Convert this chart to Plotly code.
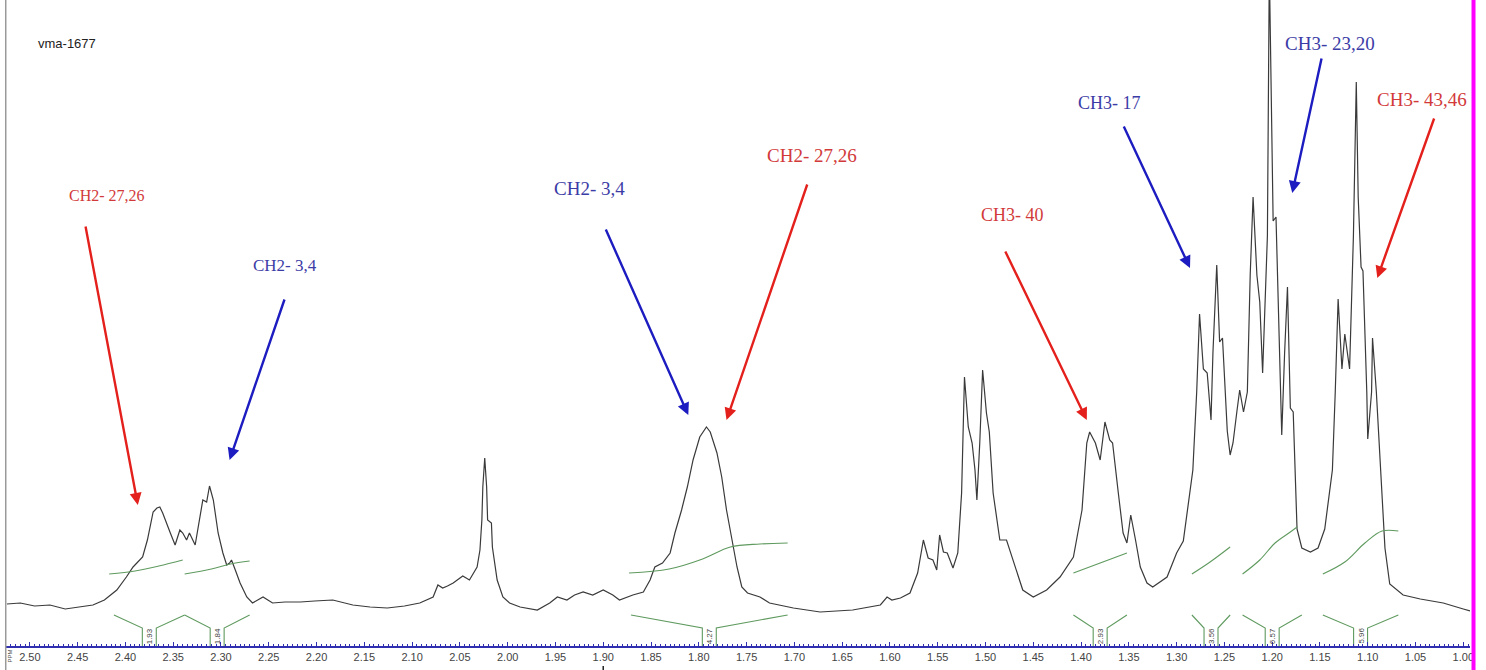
import plotly.graph_objects as go

# 1H NMR trace, chemical shift (ppm) and intensity (a.u.)
ppm = [2.524, 2.510, 2.495, 2.479, 2.463, 2.448, 2.434, 2.422, 2.409, 2.399,
       2.392, 2.382, 2.377, 2.371, 2.367, 2.364, 2.361, 2.353, 2.348, 2.343,
       2.340, 2.336, 2.333, 2.327, 2.322, 2.319, 2.315, 2.312, 2.308, 2.303,
       2.298, 2.294, 2.291, 2.289, 2.285, 2.280, 2.273, 2.267, 2.256, 2.246,
       2.233, 2.217, 2.202, 2.183, 2.162, 2.144, 2.126, 2.108, 2.092, 2.078,
       2.073, 2.068, 2.063, 2.057, 2.047, 2.040, 2.032, 2.029, 2.027, 2.026,
       2.024, 2.022, 2.021, 2.019, 2.017, 2.016, 2.011, 2.005, 1.998, 1.987,
       1.969, 1.956, 1.948, 1.938, 1.930, 1.921, 1.911, 1.900, 1.890, 1.883,
       1.869, 1.858, 1.851, 1.846, 1.838, 1.830, 1.825, 1.818, 1.812, 1.806,
       1.799, 1.792, 1.788, 1.781, 1.776, 1.771, 1.765, 1.760, 1.755, 1.749,
       1.736, 1.726, 1.701, 1.673, 1.639, 1.610, 1.603, 1.598, 1.589, 1.579,
       1.571, 1.565, 1.560, 1.555, 1.551, 1.548, 1.544, 1.540, 1.534, 1.529,
       1.525, 1.522, 1.518, 1.514, 1.511, 1.509, 1.506, 1.503, 1.499, 1.496,
       1.492, 1.485, 1.478, 1.471, 1.461, 1.450, 1.436, 1.422, 1.408, 1.399,
       1.394, 1.391, 1.385, 1.380, 1.375, 1.370, 1.367, 1.361, 1.356, 1.352,
       1.348, 1.343, 1.338, 1.331, 1.325, 1.310, 1.300, 1.293, 1.283, 1.279,
       1.276, 1.272, 1.268, 1.264, 1.262, 1.258, 1.255, 1.252, 1.247, 1.244,
       1.241, 1.237, 1.234, 1.230, 1.226, 1.223, 1.220, 1.216, 1.213, 1.210,
       1.205, 1.203, 1.200, 1.199, 1.196, 1.192, 1.190, 1.187, 1.184, 1.181,
       1.178, 1.174, 1.169, 1.160, 1.152, 1.145, 1.137, 1.134, 1.131, 1.127,
       1.124, 1.119, 1.115, 1.112, 1.110, 1.107, 1.105, 1.101, 1.100, 1.096,
       1.095, 1.091, 1.087, 1.082, 1.077, 1.063, 1.045, 1.021, 1.000, 0.993]
intensity = [3, 4, 1, 2, -2, 0, 2, 7, 17, 30,
             40, 50, 67, 95, 99, 100, 94, 74, 62, 77,
             74, 67, 74, 62, 90, 107, 105, 121, 107, 74,
             54, 42, 44, 47, 37, 24, 10, 4, 10, 4,
             5, 5, 6, 7, 2, 0, -1, 1, 4, 10,
             22, 19, 21, 24, 31, 27, 40, 57, 87, 120,
             149, 120, 87, 85, 84, 60, 27, 10, 4, 0,
             -3, 4, 10, 7, 12, 15, 12, 17, 12, 7,
             12, 15, 27, 40, 44, 54, 74, 97, 120, 147,
             170, 180, 175, 154, 130, 97, 64, 40, 20, 14,
             10, 4, -1, -5, -3, 2, 10, 7, 9, 14,
             34, 67, 49, 47, 37, 72, 55, 54, 39, 54,
             114, 230, 180, 164, 137, 107, 164, 237, 194, 175,
             114, 67, 67, 47, 17, 10, 17, 30, 50, 97,
             164, 175, 164, 147, 185, 167, 164, 114, 74, 64,
             92, 67, 40, 24, 20, 30, 54, 66, 137, 215,
             293, 238, 234, 187, 254, 342, 265, 269, 176, 152,
             164, 195, 217, 195, 215, 332, 410, 332, 305, 234,
             371, 640, 410, 386, 390, 254, 172, 254, 320, 199,
             195, 78, 59, 55, 59, 78, 137, 215, 308, 238,
             273, 238, 371, 525, 410, 340, 336, 215, 168, 215,
             269, 215, 148, 59, 23, 12, 8, 4, -2, -4]

# Running integral curves over each integrated region
integral_ppm = [
    [2.417, 2.390, 2.365, 2.340],
    [2.338, 2.310, 2.290, 2.270],
    [1.873, 1.831, 1.796, 1.767, 1.736, 1.707],
    [1.408, 1.380, 1.352],
    [1.284, 1.265, 1.244],
    [1.231, 1.213, 1.197, 1.181, 1.174],
    [1.147, 1.124, 1.103, 1.085, 1.068],
]
integral_val = [
    [33, 36, 41, 47],
    [33, 38, 43, 46],
    [34, 38, 48, 60, 63, 64],
    [34, 44, 54],
    [33, 45, 60],
    [33, 47, 64, 75, 80],
    [33, 45, 64, 76, 76],
]

# Integration regions and their relative areas
region_start = [2.412, 2.338, 1.871, 1.408, 1.284, 1.231, 1.147]
region_end = [2.338, 2.270, 1.707, 1.352, 1.244, 1.169, 1.068]
region_area = ["1.93", "1.84", "4.27", "2.93", "3.56", "6.57", "5.96"]

tick_ppm = [2.50, 2.45, 2.40, 2.35, 2.30, 2.25, 2.20, 2.15, 2.10, 2.05, 2.00,
            1.95, 1.90, 1.85, 1.80, 1.75, 1.70, 1.65, 1.60, 1.55, 1.50,
            1.45, 1.40, 1.35, 1.30, 1.25, 1.20, 1.15, 1.10, 1.05, 1.00]
tick_text = ["%.2f" % t for t in tick_ppm]

# Peak assignments: label text and colour group
assign_text = ["CH2- 27,26", "CH2- 3,4", "CH2- 3,4", "CH2- 27,26",
               "CH3- 40", "CH3- 17", "CH3- 23,20", "CH3- 43,46"]
assign_group = ["r", "b", "b", "r", "r", "b", "b", "r"]

RED_TXT, BLUE_TXT = "#d23a3a", "#3c3ca6"
RED_ARR, BLUE_ARR = "#e4201c", "#1c1cc0"
GREEN = "#5f9a5f"

fig = go.Figure()

fig.add_trace(go.Scatter(x=ppm, y=intensity, mode="lines",
                         line=dict(color="#3a3a3a", width=1.2),
                         hoverinfo="skip", showlegend=False))

for xs, ys in zip(integral_ppm, integral_val):
    fig.add_trace(go.Scatter(x=xs, y=ys, mode="lines", line_shape="spline",
                             line=dict(color=GREEN, width=1.1),
                             hoverinfo="skip", showlegend=False))

# Integral brackets below the baseline
arm_top, arm_bot, stem_bot = -8, -21, -45
gap = 0.0073
annotations = []
for a, b, v in zip(region_start, region_end, region_area):
    c = (a + b) / 2
    fig.add_trace(go.Scatter(x=[a, c + gap, c + gap], y=[arm_top, arm_bot, stem_bot],
                             mode="lines", line=dict(color=GREEN, width=1.1),
                             hoverinfo="skip", showlegend=False))
    fig.add_trace(go.Scatter(x=[c - gap, c - gap, b], y=[stem_bot, arm_bot, arm_top],
                             mode="lines", line=dict(color=GREEN, width=1.1),
                             hoverinfo="skip", showlegend=False))
    annotations.append(dict(x=c, y=-29, text=v, showarrow=False, textangle=-90,
                            font=dict(family="Liberation Sans", size=8, color="#444")))

# Assignment labels and arrows (label position, arrow tail, arrow tip)
label_pos = [(2.419, 412), (2.233, 342), (1.914, 419), (1.682, 452),
             (1.472, 392), (1.370, 504), (1.139, 564), (1.043, 508)]
arrow_tail = [(2.442, 382), (2.233, 309), (1.898, 379), (1.686, 424),
              (1.480, 357), (1.356, 482), (1.148, 550), (1.030, 490)]
arrow_tip = [(2.387, 102), (2.291, 147), (1.811, 192), (1.771, 187),
             (1.394, 187), (1.286, 339), (1.179, 414), (1.090, 329)]
label_size = [16, 17, 19, 19, 18, 18, 19, 19]

for t, g, (lx, ly), (ax, ay), (tx, ty), fs in zip(assign_text, assign_group, label_pos,
                                                   arrow_tail, arrow_tip, label_size):
    annotations.append(dict(x=lx, y=ly, text=t, showarrow=False,
                            font=dict(family="Liberation Serif", size=fs,
                                      color=RED_TXT if g == "r" else BLUE_TXT)))
    annotations.append(dict(x=tx, y=ty, ax=ax, ay=ay, axref="x", ayref="y", text="",
                            showarrow=True, arrowhead=2, arrowsize=1, arrowwidth=2.4,
                            arrowcolor=RED_ARR if g == "r" else BLUE_ARR))

annotations.append(dict(xref="paper", yref="paper", x=0.021, y=0.948, xanchor="left",
                        text="vma-1677", showarrow=False,
                        font=dict(family="Liberation Sans", size=13, color="#222")))
annotations.append(dict(xref="paper", yref="paper", x=-0.0003, y=-0.0155, xanchor="left",
                        yanchor="middle", text="PPM", showarrow=False, textangle=-90,
                        font=dict(family="Liberation Sans", size=6, color="#555")))

shapes = [
    dict(type="line", xref="paper", yref="paper", x0=0.0005, x1=0.0005, y0=-0.04, y1=1,
         line=dict(color="#9a9a9a", width=1.5)),
    dict(type="line", xref="paper", yref="paper", x0=1.0024, x1=1.0024, y0=-0.045, y1=1,
         line=dict(color="#ff00ff", width=4)),
    dict(type="line", xref="x", yref="paper", x0=1.90, x1=1.90, y0=-0.031, y1=-0.042,
         line=dict(color="#222", width=1.5)),
]

fig.update_layout(
    width=1486, height=670,
    margin=dict(l=5, r=16, t=0, b=24),
    paper_bgcolor="white", plot_bgcolor="white",
    xaxis=dict(range=[2.526, 0.993], showgrid=False, zeroline=False,
               showline=True, linecolor="#2f2fb0", linewidth=1.5,
               tickmode="array", tickvals=tick_ppm, ticktext=tick_text,
               ticks="inside", ticklen=4, tickcolor="#2f2fb0", tickwidth=1,
               minor=dict(dtick=0.005, ticks="inside", ticklen=2, tickcolor="#2f2fb0"),
               tickfont=dict(family="Liberation Sans", size=11, color="#444")),
    yaxis=dict(range=[-39, 607], visible=False, fixedrange=True),
    annotations=annotations, shapes=shapes,
)

fig.write_html("out.html")
